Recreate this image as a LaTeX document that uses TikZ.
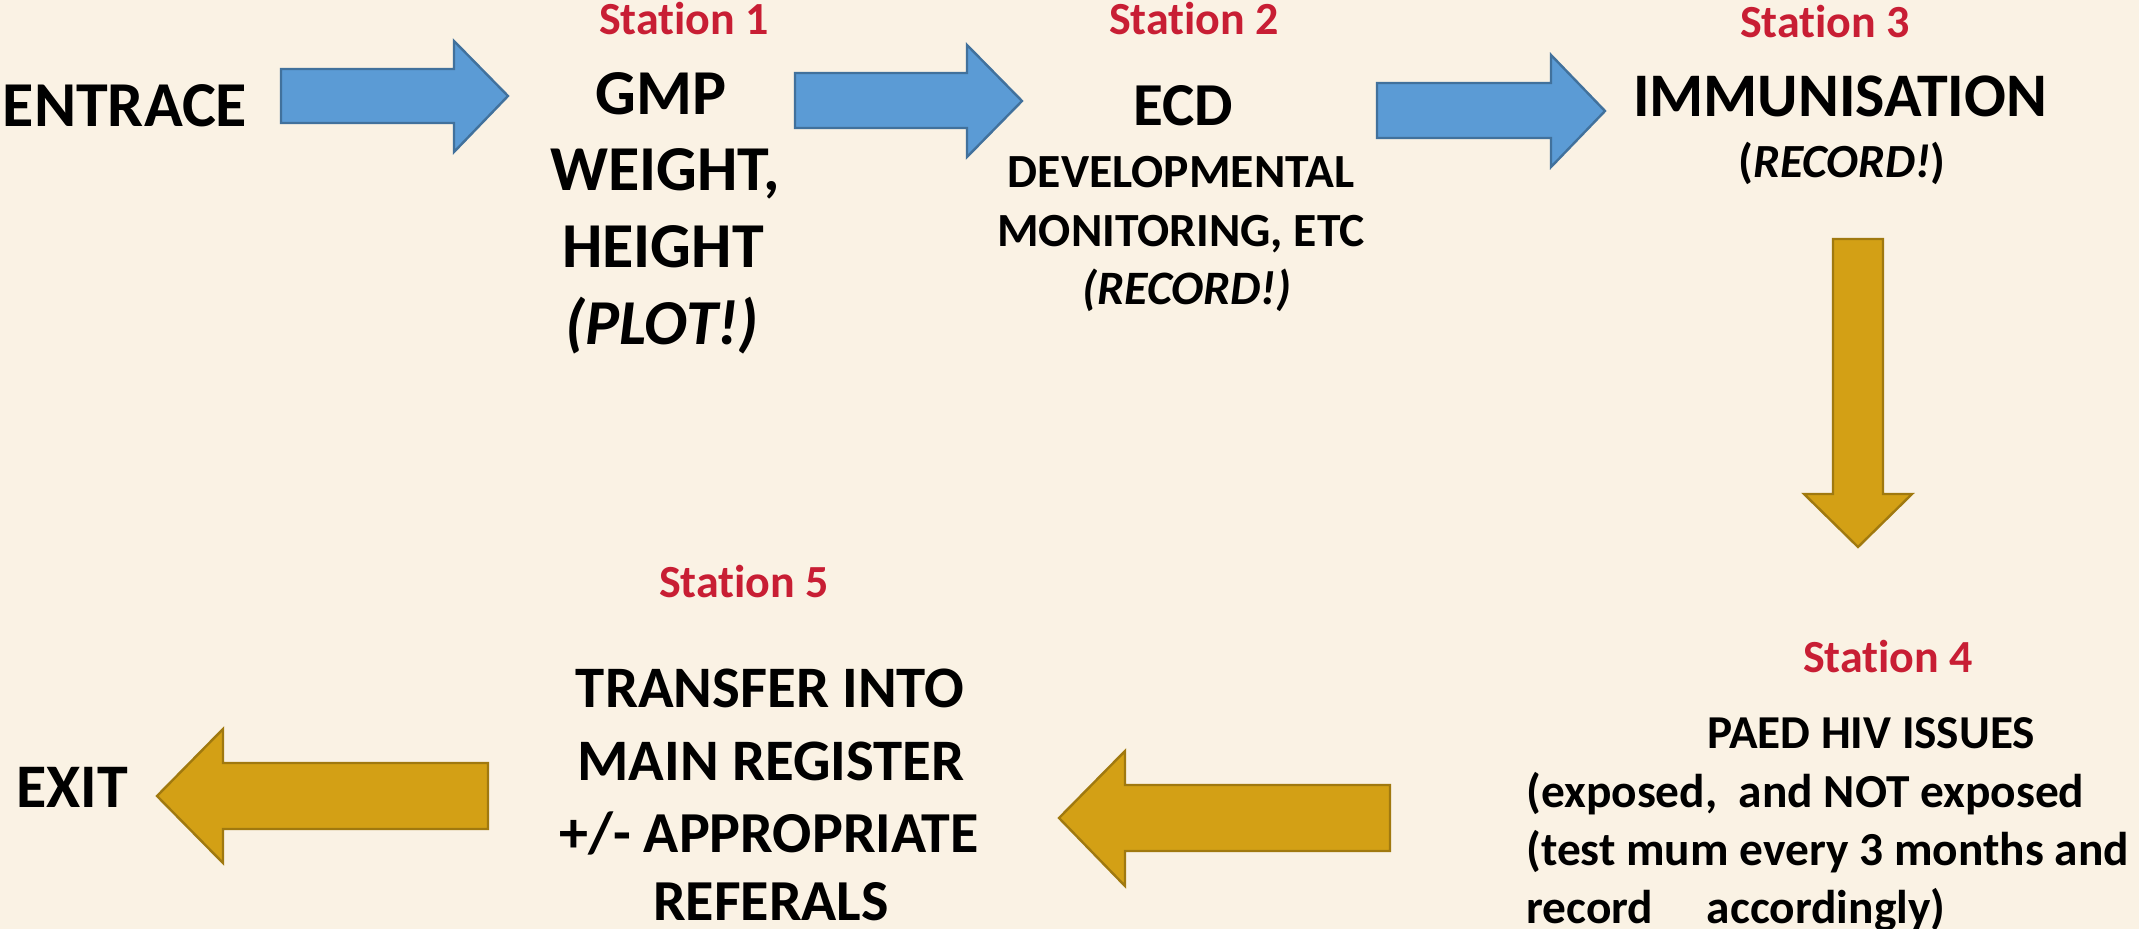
\documentclass[tikz,border=0pt]{standalone}
\usepackage{fontspec}
\setmainfont{Carlito}[Ligatures=NoCommon]
\definecolor{bgc}{RGB}{250,242,228}
\definecolor{redc}{RGB}{200,30,52}
\definecolor{bluef}{RGB}{91,155,213}
\definecolor{blued}{RGB}{65,113,156}
\definecolor{goldf}{RGB}{211,160,21}
\definecolor{goldd}{RGB}{160,121,15}
\tikzset{
  lbl/.style={anchor=base,inner sep=0pt,font=\bfseries\fontsize{#1}{#1}\selectfont},
  lbll/.style={anchor=base west,inner sep=0pt,font=\bfseries\fontsize{#1}{#1}\selectfont},
  stn/.style={lbl=23pt,text=redc},
  bluearrow/.style={fill=bluef,draw=blued,line width=1.2pt,line join=miter},
  goldarrow/.style={fill=goldf,draw=goldd,line width=1.2pt,line join=miter}
}
\begin{document}
\begin{tikzpicture}[x=0.5pt,y=-0.5pt]
\fill[bgc] (0,0) rectangle (2139,929);
\useasboundingbox (0,0) rectangle (2139,929);
% arrows
\path[bluearrow] (281,69) -- (454,69) -- (454,41) -- (508,96) -- (454,152) -- (454,123) -- (281,123) -- cycle;
\path[bluearrow] (795,73) -- (967,73) -- (967,45) -- (1022,101) -- (967,157) -- (967,128) -- (795,128) -- cycle;
\path[bluearrow] (1377,83) -- (1551,83) -- (1551,55) -- (1605,111) -- (1551,167) -- (1551,138) -- (1377,138) -- cycle;
\path[goldarrow] (1833,239) -- (1883,239) -- (1883,494) -- (1912,494) -- (1858,547) -- (1804,494) -- (1833,494) -- cycle;
\path[goldarrow] (1390,785) -- (1125,785) -- (1125,751) -- (1059,818) -- (1125,886) -- (1125,851) -- (1390,851) -- cycle;
\path[goldarrow] (488,763) -- (223,763) -- (223,729) -- (157,796) -- (223,863) -- (223,829) -- (488,829) -- cycle;
% texts
\node[lbl=32pt] (entr) at (125,127) {ENTRACE};
\node[stn] (st1) at (684,35) {Station 1};
\node[lbl=32pt] (gmp) at (661,115) {GMP};
\node[lbl=32pt] (wt) at (665,191) {WEIGHT,};
\node[lbl=32pt] (ht) at (663,268) {HEIGHT};
\node[lbl=32pt] (plot) at (662,345) {\itshape (PLOT!)};
\node[stn] (st2) at (1194,35) {Station 2};
\node[lbl=30.5pt] (ecd) at (1183,126) {ECD};
\node[lbl=23.8pt] (dev) at (1181,188) {DEVELOPMENTAL};
\node[lbl=23.8pt] (mon) at (1181,247) {MONITORING, ETC};
\node[lbl=24pt] (rec2) at (1187,305) {\itshape (RECORD!)};
\node[stn] (st3) at (1825,38) {Station 3};
\node[lbl=31pt] (imm) at (1840,117) {IMMUNISATION};
\node[lbl=23.8pt] (rec3) at (1842,178) {(\textit{RECORD!})};
\node[stn] (st4) at (1888,672) {Station 4};
\node[lbl=23.6pt] (paed) at (1871,748) {PAED HIV ISSUES};
\node[lbll=23.7pt] (exp) at (1526,807) {(exposed,~ and NOT exposed};
\node[lbll=23.7pt] (test) at (1526,865) {(test mum every 3 months and};
\node[lbll=23.7pt] (recd) at (1526,923) {record~~~~ accordingly)};
\node[stn] (st5) at (744,597) {Station 5};
\node[lbl=29.4pt] (tr) at (770,707) {TRANSFER INTO};
\node[lbl=29.4pt] (mr) at (771,780) {MAIN REGISTER};
\node[lbl=29pt] (ap) at (769,852) {+/- APPROPRIATE};
\node[lbl=29pt] (rf) at (771,920) {REFERALS};
\node[lbl=31pt] (exit) at (72,807) {EXIT};
\end{tikzpicture}
\end{document}
